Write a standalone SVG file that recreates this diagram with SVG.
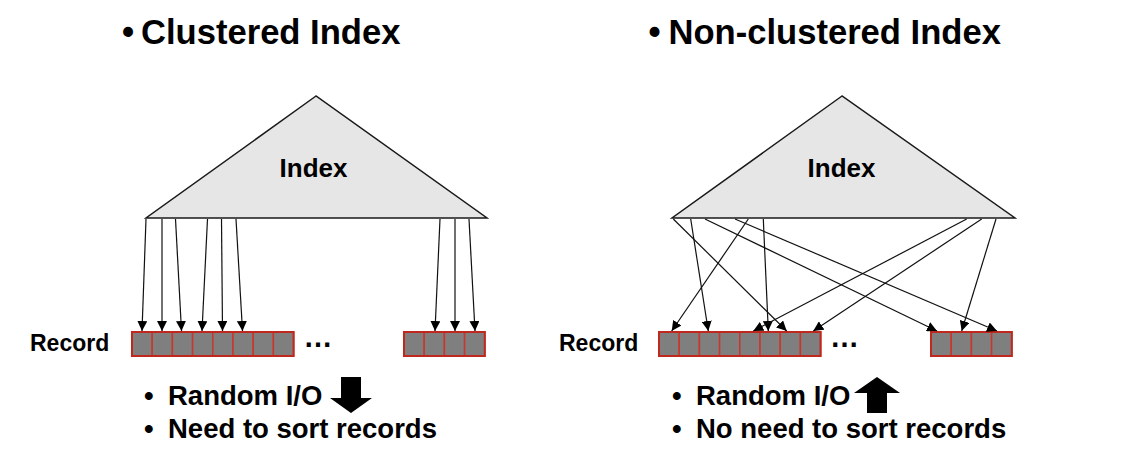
<svg xmlns="http://www.w3.org/2000/svg" width="1148" height="466" viewBox="0 0 1148 466">
<defs>
<style>
.t{font-family:"Liberation Sans",Arial,sans-serif;font-weight:bold;fill:#000}
.tri{fill:#e6e6e6;stroke:#1a1a1a;stroke-width:1.5;stroke-linejoin:miter}
.cell{fill:#7f7f7f;stroke:#c8372d;stroke-width:1.5}
.blk{fill:none;stroke:#c0281e;stroke-width:2}
.con{stroke:#111;stroke-width:1.2;fill:none;marker-end:url(#ah)}
.dots{font-family:"Liberation Sans",Arial,sans-serif;font-weight:bold;font-size:29px;fill:#000}
.big{fill:#000}
</style>
<marker id="ah" viewBox="0 0 10 10" refX="10" refY="5" markerWidth="10" markerHeight="10" markerUnits="userSpaceOnUse" orient="auto">
<path d="M0,0 L10,5 L0,10 z" fill="#000"/>
</marker>
</defs>
<rect width="1148" height="466" fill="#fff"/>

<g id="title-left"><text class="t" font-size="34.6" y="43.5"><tspan x="122">•</tspan><tspan x="141">Clustered Index</tspan></text></g>
<g id="title-right"><text class="t" font-size="34.6" y="43.5"><tspan x="648.5">•</tspan><tspan x="668.5">Non-clustered Index</tspan></text></g>

<g id="index-left">
<polygon class="tri" points="316,96 146,218 487,218"/>
<text class="t" font-size="26" x="313.5" y="177" text-anchor="middle">Index</text>
</g>
<g id="index-right">
<polygon class="tri" points="842,96 672,218 1015,218"/>
<text class="t" font-size="26" x="841.5" y="177" text-anchor="middle">Index</text>
</g>

<g id="record-label-left"><text class="t" font-size="23" x="30" y="351">Record</text></g>
<g id="record-label-right"><text class="t" font-size="23" x="559" y="351">Record</text></g>

<g id="records-left-a">
<rect class="cell" x="132" y="332" width="20.2" height="24"/>
<rect class="cell" x="152.2" y="332" width="20.2" height="24"/>
<rect class="cell" x="172.4" y="332" width="20.2" height="24"/>
<rect class="cell" x="192.6" y="332" width="20.2" height="24"/>
<rect class="cell" x="212.8" y="332" width="20.2" height="24"/>
<rect class="cell" x="233" y="332" width="20.2" height="24"/>
<rect class="cell" x="253.2" y="332" width="20.2" height="24"/>
<rect class="cell" x="273.4" y="332" width="20.2" height="24"/>
<rect class="blk" x="132" y="332" width="161.6" height="24"/>
</g>
<g id="ellipsis-left"><text class="dots" x="303.5" y="347">…</text></g>
<g id="records-left-b">
<rect class="cell" x="404" y="332" width="20.2" height="24"/>
<rect class="cell" x="424.2" y="332" width="20.2" height="24"/>
<rect class="cell" x="444.4" y="332" width="20.2" height="24"/>
<rect class="cell" x="464.6" y="332" width="20.2" height="24"/>
<rect class="blk" x="404" y="332" width="80.8" height="24"/>
</g>

<g id="records-right-a">
<rect class="cell" x="659" y="332" width="20.2" height="24"/>
<rect class="cell" x="679.2" y="332" width="20.2" height="24"/>
<rect class="cell" x="699.4" y="332" width="20.2" height="24"/>
<rect class="cell" x="719.6" y="332" width="20.2" height="24"/>
<rect class="cell" x="739.8" y="332" width="20.2" height="24"/>
<rect class="cell" x="760" y="332" width="20.2" height="24"/>
<rect class="cell" x="780.2" y="332" width="20.2" height="24"/>
<rect class="cell" x="800.4" y="332" width="20.2" height="24"/>
<rect class="blk" x="659" y="332" width="161.6" height="24"/>
</g>
<g id="ellipsis-right"><text class="dots" x="830" y="347">…</text></g>
<g id="records-right-b">
<rect class="cell" x="931" y="332" width="20.2" height="24"/>
<rect class="cell" x="951.2" y="332" width="20.2" height="24"/>
<rect class="cell" x="971.4" y="332" width="20.2" height="24"/>
<rect class="cell" x="991.6" y="332" width="20.2" height="24"/>
<rect class="blk" x="931" y="332" width="80.8" height="24"/>
</g>

<g id="connectors">
<line class="con" x1="146" y1="219" x2="142" y2="331"/>
<line class="con" x1="162" y1="219" x2="162" y2="331"/>
<line class="con" x1="175.5" y1="219" x2="181.5" y2="331"/>
<line class="con" x1="207.5" y1="219" x2="202" y2="331"/>
<line class="con" x1="221.5" y1="219" x2="222.5" y2="331"/>
<line class="con" x1="236" y1="219" x2="242.5" y2="331"/>
<line class="con" x1="440" y1="219" x2="435" y2="331"/>
<line class="con" x1="455" y1="219" x2="455" y2="331"/>
<line class="con" x1="469" y1="219" x2="475" y2="331"/>

<line class="con" x1="748.3" y1="219" x2="671.7" y2="331"/>
<line class="con" x1="690.7" y1="219" x2="708.3" y2="331"/>
<line class="con" x1="673.3" y1="219" x2="786.7" y2="331"/>
<line class="con" x1="763.3" y1="219" x2="768.3" y2="331"/>
<line class="con" x1="966.7" y1="219" x2="753.3" y2="331"/>
<line class="con" x1="981.7" y1="219" x2="813.3" y2="331"/>
<line class="con" x1="705" y1="219" x2="937" y2="331"/>
<line class="con" x1="735" y1="219" x2="997" y2="331"/>
<line class="con" x1="996" y1="219" x2="961.7" y2="331"/>
</g>

<g id="notes-left">
<text class="t" font-size="27.5" y="405"><tspan x="144">•</tspan><tspan x="168">Random I/O</tspan></text>
<text class="t" font-size="27.5" y="438"><tspan x="144">•</tspan><tspan x="168">Need to sort records</tspan></text>
<polygon class="big" points="341,377 361,377 361,398 372,398 351,413 330,398 341,398"/>
</g>
<g id="notes-right">
<text class="t" font-size="27.5" y="405"><tspan x="672">•</tspan><tspan x="696">Random I/O</tspan></text>
<text class="t" font-size="27.5" y="438"><tspan x="672">•</tspan><tspan x="696">No need to sort records</tspan></text>
<polygon class="big" points="877,377 900,393 887,393 887,413 867,413 867,393 854,393"/>
</g>
</svg>
